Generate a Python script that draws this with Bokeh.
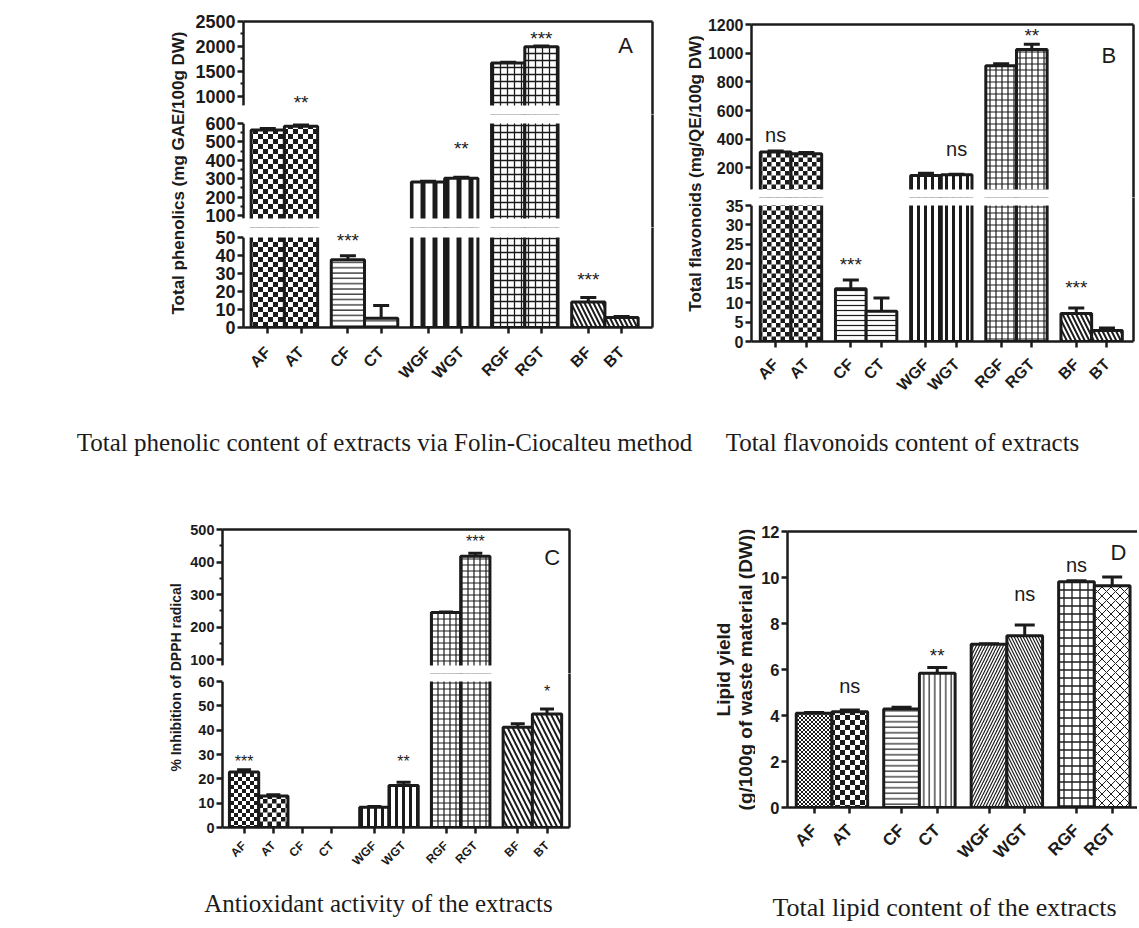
import math
import base64
from bokeh.plotting import figure
from bokeh.layouts import column, row
from bokeh.models import (Range1d, LinearAxis, FixedTicker, ColumnDataSource, Whisker,
                          TeeHead, BoxAnnotation, ImageURLTexture)
from bokeh.core.properties import value
from bokeh.embed import file_html
from bokeh.resources import INLINE

# ---------------- data ----------------
categories = ["AF", "AT", "CF", "CT", "WGF", "WGT", "RGF", "RGT", "BF", "BT"]
lipid_categories = ["AF", "AT", "CF", "CT", "WGF", "WGT", "RGF", "RGT"]

phenolics = [565, 585, 37.7, 5.2, 282, 302, 1665, 1995, 14.2, 5.5]
phenolics_err = [8, 10, 2.2, 7.0, 5, 6, 15, 12, 2.4, 0.6]
phenolics_sig = ["", "**", "***", "", "", "**", "", "***", "***", ""]
phenolics_sig_y = [None, 960, 50.4, None, None, 487, None, 2226, 28.9, None]

flavonoids = [311, 300, 13.6, 7.8, 147, 152, 912, 1025, 7.2, 2.8]
flavonoids_err = [8, 8, 2.2, 3.4, 16, 4, 15, 37, 1.4, 0.7]
flavonoids_sig = ["ns", "", "***", "", "", "ns", "", "**", "***", ""]
flavonoids_sig_y = [416, None, 20.7, None, None, 323, None, 1148, 14.9, None]

dpph = [22.8, 12.9, 0, 0, 8.3, 17.3, 245, 418, 41.2, 46.6]
dpph_err = [0.9, 0.6, 0, 0, 0.3, 1.3, 2, 9, 1.4, 2.1]
dpph_sig = ["***", "", "", "", "", "**", "", "***", "", "*"]
dpph_sig_y = [28.4, None, None, None, None, 28.4, None, 473, None, 57.3]

lipid = [4.10, 4.16, 4.28, 5.84, 7.10, 7.47, 9.81, 9.64]
lipid_err = [0.03, 0.08, 0.08, 0.25, 0.02, 0.47, 0.05, 0.38]
lipid_sig = ["", "ns", "", "**", "", "ns", "ns", ""]
lipid_sig_y = [None, 5.22, None, 6.77, None, 9.2, 10.47, None]

# ---------------- styles ----------------
INK = "#1b1b1b"
SANS = "Liberation Sans"
SERIF = "Liberation Serif"


def checker_texture(n):
    h = n / 2
    svg = (f'<svg xmlns="http://www.w3.org/2000/svg" width="{n}" height="{n}">'
           f'<rect width="{n}" height="{n}" fill="#ffffff"/>'
           f'<rect width="{h}" height="{h}" fill="{INK}"/>'
           f'<rect x="{h}" y="{h}" width="{h}" height="{h}" fill="{INK}"/></svg>')
    uri = "data:image/svg+xml;base64," + base64.b64encode(svg.encode()).decode()
    return ImageURLTexture(url=uri, repetition="repeat")


TEXTURES = {f"checker{n}": checker_texture(n) for n in (4, 8, 9, 10)}

STYLE_A = [("checker10", 10, 1), ("checker10", 10, 1), ("horizontal_line", 5.3, 1.2), ("horizontal_line", 5.3, 1.2),
           ("vertical_line", 12, 5), ("vertical_line", 12, 5), ("cross", 7, 1.3), ("cross", 7, 1.3),
           ("left_diagonal_line", 9, 2), ("left_diagonal_line", 9, 2)]
STYLE_B = [("checker9", 9, 1), ("checker9", 9, 1), ("horizontal_line", 5, 1.2), ("horizontal_line", 5, 1.2),
           ("vertical_line", 7, 3), ("vertical_line", 7, 3), ("cross", 6, 1.2), ("cross", 6, 1.2),
           ("left_diagonal_line", 9, 2), ("left_diagonal_line", 9, 2)]
STYLE_C = [("checker8", 8, 1), ("checker9", 9, 1), ("horizontal_line", 5, 1.2), ("horizontal_line", 5, 1.2),
           ("vertical_line", 7, 3), ("vertical_line", 7, 3), ("cross", 6, 1.2), ("cross", 6, 1.2),
           ("left_diagonal_line", 10, 2), ("left_diagonal_line", 10, 2)]
STYLE_D = [("checker4", 4, 1), ("checker10", 10, 1), ("horizontal_line", 5.5, 1.2), ("vertical_line", 5.5, 1.2),
           ("right_diagonal_line", 6, 1.2), ("left_diagonal_line", 6, 1.2), ("cross", 8, 1.3), ("diagonal_cross", 9, 1)]


def base_fig(**kw):
    p = figure(toolbar_location=None, output_backend="svg", title=None,
               x_axis_location=None, y_axis_location=None, outline_line_color=None,
               background_fill_color="white", border_fill_color="white", **kw)
    p.grid.visible = False
    return p


def line_axis():
    return LinearAxis(ticker=FixedTicker(ticks=[]), major_tick_in=0, major_tick_out=0,
                      minor_tick_in=0, minor_tick_out=0, axis_line_color=INK, axis_line_width=2.5,
                      major_label_text_font_size="0px")


def build_panel(cfg):
    pos = [i + g * cfg["gap"] for i, g in enumerate(cfg["groups"])]
    x0 = cfg["xstart"]
    x1 = x0 + cfg["fw"] / cfg["ppx"]
    xr = Range1d(x0, x1)
    segs = cfg["segments"]
    n = len(segs)
    vals, errs = cfg["vals"], cfg["errs"]
    drawn = [i for i, v in enumerate(vals) if v > 0]
    bars = dict(x=[pos[i] for i in drawn], top=[vals[i] for i in drawn],
                pat=[cfg["styles"][i][0] for i in drawn],
                hs=[cfg["styles"][i][1] for i in drawn],
                hw=[cfg["styles"][i][2] for i in drawn])
    mask_right = x1 - 1.5 / cfg["ppx"] if cfg["right_line"] else None
    frame_top = cfg["row_top"] + segs[0]["gap"]

    # extended (pixel-padded) data range of every segment
    geo = []
    for k, s in enumerate(segs):
        ppu = s["h"] / (s["hi"] - s["lo"])
        ext_top = 0 if k == 0 else s["gap"] - s["gap"] // 2
        ext_bot = 0 if k == n - 1 else segs[k + 1]["gap"] // 2
        geo.append((ppu, ext_top, ext_bot, s["lo"] - ext_bot / ppu, s["hi"] + ext_top / ppu))

    # each significance label goes to the lowest segment that holds it
    label_seg = []
    for y in cfg["sig_y"]:
        seg = None
        if y is not None:
            for k in range(n - 1, -1, -1):
                if geo[k][3] <= y <= geo[k][4]:
                    seg = k
                    break
        label_seg.append(seg)

    figs = []
    for k, s in enumerate(segs):
        ppu, ext_top, ext_bot, lo_ext, hi_ext = geo[k]
        span = hi_ext - lo_ext
        fh = s["h"] + ext_top + ext_bot
        bt = s["gap"] if k == 0 else 0
        bb = cfg["bottom_border"] if k == n - 1 else 0
        p = base_fig(width=cfg["lb"] + cfg["fw"] + cfg["rb"], height=bt + fh + bb,
                     x_range=xr, y_range=Range1d(lo_ext, hi_ext),
                     min_border_left=cfg["lb"], min_border_right=cfg["rb"],
                     min_border_top=bt, min_border_bottom=bb)
        p.vbar(x="x", top="top", bottom=0, width=1.0, source=ColumnDataSource(bars),
               fill_color="white", line_color=INK, line_width=3,
               hatch_pattern="pat", hatch_scale="hs", hatch_weight="hw", hatch_color=INK,
               hatch_extra=TEXTURES)
        if ext_top:
            p.add_layout(BoxAnnotation(bottom=s["hi"], top=hi_ext + span, right=mask_right,
                                       fill_color="white", fill_alpha=1.0, line_color=None))
        if ext_bot:
            p.add_layout(BoxAnnotation(top=s["lo"], bottom=lo_ext - span, right=mask_right,
                                       fill_color="white", fill_alpha=1.0, line_color=None))
        # error bars
        ex, elo, ehi = [], [], []
        for i in drawn:
            if errs[i] > 0 and s["lo"] <= vals[i] <= s["hi"]:
                ex.append(pos[i]); elo.append(vals[i]); ehi.append(vals[i] + errs[i])
        if ex:
            p.add_layout(Whisker(source=ColumnDataSource(dict(x=ex, lo=elo, hi=ehi)), base="x",
                                 lower="lo", upper="hi", dimension="height", line_color=INK,
                                 line_width=3, lower_head=None,
                                 upper_head=TeeHead(size=cfg["cap"], line_color=INK, line_width=3)))
        # significance labels
        for kind, size, off in (("*", cfg["star_size"], -0.2), ("n", cfg["ns_size"], 0.08)):
            sx, sy, st = [], [], []
            for i, (t, y) in enumerate(zip(cfg["sig"], cfg["sig_y"])):
                if t and label_seg[i] == k and t[0] == kind:
                    sx.append(pos[i]); sy.append(y + off * size / ppu); st.append(t)
            if sx:
                p.text(x=sx, y=sy, text=st, text_align="center", text_baseline="middle",
                       text_font=value(SANS), text_font_size=value(f"{size}px"), text_color=INK,
                       level="overlay")
        # panel letter
        if k == 0:
            lx = x0 + (cfg["letter_xy"][0] - cfg["frame_left"]) / cfg["ppx"]
            ly = s["hi"] - (cfg["letter_xy"][1] - frame_top) / ppu
            p.text(x=[lx], y=[ly], text=[cfg["letter"]], text_align="center", text_baseline="middle",
                   text_font=value(SANS), text_font_size=value("22px"), text_color=INK, level="overlay")
        # axes
        ya = LinearAxis(ticker=FixedTicker(ticks=s["major"], minor_ticks=s["minor"]),
                        bounds=(s["lo"], s["hi"]), axis_line_color=INK, axis_line_width=2.5,
                        major_tick_line_color=INK, major_tick_line_width=2.5, major_tick_in=0,
                        major_tick_out=6, minor_tick_line_color=INK, minor_tick_line_width=2,
                        minor_tick_in=0, minor_tick_out=3, major_label_text_font=SANS,
                        major_label_text_font_style="bold", major_label_text_color=INK,
                        major_label_text_font_size=cfg["ytick_size"], major_label_standoff=2)
        p.add_layout(ya, "left")
        if cfg["right_line"]:
            p.add_layout(line_axis(), "right")
        if k == 0:
            p.add_layout(line_axis(), "above")
        if k == n - 1:
            xa = LinearAxis(ticker=FixedTicker(ticks=pos),
                            major_label_overrides={pv: c for pv, c in zip(pos, cfg["cats"])},
                            major_label_orientation=math.pi / 4, axis_line_color=INK,
                            axis_line_width=2.5, major_tick_line_color=INK, major_tick_line_width=2.5,
                            major_tick_in=0, major_tick_out=6, minor_tick_in=0, minor_tick_out=0,
                            major_label_text_font=SANS, major_label_text_font_style="bold",
                            major_label_text_color=INK, major_label_text_font_size=cfg["xtick_size"],
                            major_label_standoff=cfg["xstand"])
            p.add_layout(xa, "below")
        figs.append(p)
    return column(*figs)


def text_fig(w, h, items):
    p = base_fig(width=w, height=h, x_range=Range1d(0, w), y_range=Range1d(h, 0), min_border=0)
    for (x, y, t, size, font, style, angle) in items:
        p.text(x=[x], y=[y], text=[t], angle=angle, text_align="center", text_baseline="middle",
               text_font=value(font), text_font_style=style, text_font_size=value(size),
               text_color=INK)
    return p


PAIRS5 = [0, 0, 1, 1, 2, 2, 3, 3, 4, 4]

panel_a = build_panel(dict(
    cats=categories, vals=phenolics, errs=phenolics_err, sig=phenolics_sig, sig_y=phenolics_sig_y,
    groups=PAIRS5, gap=0.41, xstart=-0.73, ppx=33.25, lb=55, fw=409, rb=10, bottom_border=98,
    row_top=0, frame_left=243, letter="A", letter_xy=(625, 45), right_line=True, styles=STYLE_A,
    ytick_size="18px", xtick_size="16px", xstand=16, star_size=19, ns_size=20, cap=16,
    segments=[dict(lo=814, hi=2500, h=84, gap=21, major=[1000, 1500, 2000, 2500], minor=[1250, 1750, 2250]),
              dict(lo=84, hi=600, h=95, gap=18, major=[100, 200, 300, 400, 500, 600],
                   minor=[150, 250, 350, 450, 550]),
              dict(lo=0, hi=50, h=90, gap=19, major=[0, 10, 20, 30, 40, 50], minor=[])]))

panel_b = build_panel(dict(
    cats=categories, vals=flavonoids, errs=flavonoids_err, sig=flavonoids_sig, sig_y=flavonoids_sig_y,
    groups=PAIRS5, gap=0.45, xstart=-0.787, ppx=31.0, lb=43, fw=386, rb=4, bottom_border=84,
    row_top=0, frame_left=747, letter="B", letter_xy=(1108, 55), right_line=True, styles=STYLE_B,
    ytick_size="16px", xtick_size="16px", xstand=14, star_size=19, ns_size=20, cap=16,
    segments=[dict(lo=50, hi=1200, h=165, gap=24, major=[200, 400, 600, 800, 1000, 1200], minor=[]),
              dict(lo=0, hi=35, h=136, gap=16, major=[0, 5, 10, 15, 20, 25, 30, 35], minor=[])]))

panel_c = build_panel(dict(
    cats=categories, vals=dpph, errs=dpph_err, sig=dpph_sig, sig_y=dpph_sig_y,
    groups=[0, 0, 0, 0, 1, 1, 2, 2, 3, 3], gap=0.45, xstart=-0.737, ppx=29.27, lb=40, fw=347, rb=10,
    bottom_border=53, row_top=465, frame_left=222, letter="C", letter_xy=(551.7, 556.7),
    right_line=True, styles=STYLE_C, ytick_size="14.5px", xtick_size="12px", xstand=10, star_size=16,
    ns_size=17, cap=14,
    segments=[dict(lo=82.5, hi=500, h=136, gap=64, major=[100, 200, 300, 400, 500],
                   minor=[150, 250, 350, 450]),
              dict(lo=0, hi=60, h=146, gap=16, major=[0, 10, 20, 30, 40, 50, 60], minor=[])]))

panel_d = build_panel(dict(
    cats=lipid_categories, vals=lipid, errs=lipid_err, sig=lipid_sig, sig_y=lipid_sig_y,
    groups=[0, 0, 1, 1, 2, 2, 3, 3], gap=0.45, xstart=-0.745, ppx=35.7, lb=32, fw=350, rb=0,
    bottom_border=73, row_top=465, frame_left=787, letter="D", letter_xy=(1118, 551.7),
    right_line=False, styles=STYLE_D, ytick_size="16.5px", xtick_size="17px", xstand=14, star_size=19,
    ns_size=20, cap=20,
    segments=[dict(lo=0, hi=12, h=276, gap=66, major=[0, 2, 4, 6, 8, 10, 12], minor=[])]))

lab_a = text_fig(188, 425, [(178, 172.5, "Total phenolics (mg GAE/100g DW)", "17px", SANS, "bold", math.pi / 2)])
lab_b = text_fig(42, 425, [(33, 173, "Total flavonoids (mg/QE/100g DW)", "17px", SANS, "bold", math.pi / 2)])
lab_c = text_fig(182, 415, [(175, 212, "% Inhibition of DPPH radical", "14px", SANS, "bold", math.pi / 2)])
lab_d = text_fig(176, 415, [(144, 204, "Lipid yield", "19px", SANS, "bold", math.pi / 2),
                            (166, 204, "(g/100g of waste material (DW))", "19px", SANS, "bold", math.pi / 2)])

cap_1 = text_fig(1137, 40, [(384, 17, "Total phenolic content of extracts via Folin-Ciocalteu method", "25px", SERIF, "normal", 0),
                            (902, 17, "Total flavonoids content of extracts", "25px", SERIF, "normal", 0)])
cap_2 = text_fig(1137, 44, [(378, 23, "Antioxidant activity of the extracts", "25px", SERIF, "normal", 0),
                            (944, 26.7, "Total lipid content of the extracts", "26px", SERIF, "normal", 0)])

page = column(row(lab_a, panel_a, lab_b, panel_b),
              cap_1,
              row(lab_c, panel_c, lab_d, panel_d),
              cap_2)

open("out.html", "w").write(file_html(page, INLINE, title="extracts"))
